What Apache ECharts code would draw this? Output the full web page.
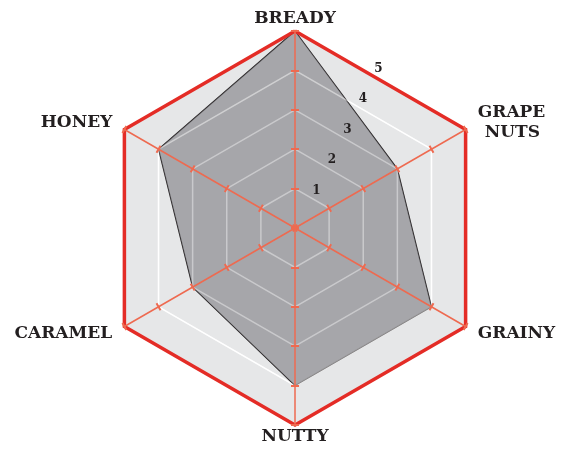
<!DOCTYPE html>
<html>
<head>
<meta charset="utf-8">
<script src="https://cdn.jsdelivr.net/npm/echarts@6/dist/echarts.min.js"></script>
<style>
html, body { margin: 0; padding: 0; background: #fff; }
#chart { width: 569px; height: 449px; }
</style>
</head>
<body>
<div id="chart"></div>
<script>
// indicators go counter-clockwise from the top in echarts
var flavours = ['BREADY', 'HONEY', 'CARAMEL', 'NUTTY', 'GRAINY', 'GRAPE\nNUTS'];
var scores = [5, 4, 3, 4, 4, 3];
var scaleMax = 5;
var scaleLabels = ['1', '2', '3', '4', '5'];

var none = 'rgba(0,0,0,0)';
var coral = '#ee6a50';
var faint = 'rgba(255,255,255,0.4)';
var center = [295, 228];
var radius = 197;

function indicators(withNames) {
    return flavours.map(function(name, i) {
        var item = { name: withNames ? name : '', min: 0, max: scaleMax };
        // names at the top and bottom sit closer to the corner than the side ones
        if (withNames) {
            item.nameGap = (i * 60) % 180 === 0 ? 2 : 14;
        }
        return item;
    });
}

var chart = echarts.init(document.getElementById('chart'));

option = {
    animation: false,
    radar: [
        {
            // background: grey area, white ring at 4, flavour names
            z: 0,
            center: center,
            radius: radius,
            splitNumber: 5,
            indicator: indicators(true),
            axisName: {
                color: '#231f20',
                fontFamily: 'DejaVu Serif',
                fontWeight: 'bold',
                fontSize: 17,
                lineHeight: 20,
                formatter: function(name) {
                    var parts = name.split('\n');
                    if (parts.length < 2) return name;
                    return '{a|' + parts[0] + '}\n{b|' + parts[1] + '}';
                },
                rich: {
                    a: { fontFamily: 'DejaVu Serif', fontWeight: 'bold', fontSize: 17, lineHeight: 20, color: '#231f20' },
                    b: { fontFamily: 'DejaVu Serif', fontWeight: 'bold', fontSize: 17, lineHeight: 20, color: '#231f20', padding: [0, 0, 0, 7] }
                }
            },
            axisLine: { show: false },
            axisTick: { show: false },
            axisLabel: { show: false },
            splitArea: { show: true, areaStyle: { color: ['#e6e7e8'] } },
            splitLine: { lineStyle: { color: [none, none, none, none, '#ffffff', none], width: 1.5 } }
        },
        {
            // spokes, ticks and the faint inner rings over the data
            z: 3,
            center: center,
            radius: radius,
            splitNumber: 5,
            indicator: indicators(false),
            axisName: { show: false },
            axisLine: { lineStyle: { color: coral, width: 1.5 } },
            axisTick: { show: true, length: 4, lineStyle: { color: coral, width: 2 } },
            axisLabel: { show: false },
            splitArea: { show: false },
            splitLine: { lineStyle: { color: [none, faint, faint, faint, faint, none], width: 1.5 } }
        },
        {
            // thick red outline + the ticks on the other side of the spokes
            z: 3,
            center: center,
            radius: radius,
            splitNumber: 5,
            indicator: indicators(false),
            axisName: { show: false },
            axisLine: { show: false },
            axisTick: { show: true, length: -4, lineStyle: { color: coral, width: 2 } },
            axisLabel: { show: false },
            splitArea: { show: false },
            splitLine: { lineStyle: { color: [none, none, none, none, none, '#e42c26'], width: 3.5 } }
        },
        {
            // scale numbers, on a turned axis between BREADY and GRAPE NUTS
            z: 3,
            center: [305, 221],
            radius: 171,
            startAngle: 63,
            splitNumber: 5,
            indicator: [{ name: '', min: 0, max: scaleMax }],
            axisName: { show: false },
            axisLine: { show: false },
            axisTick: { show: false },
            splitArea: { show: false },
            splitLine: { show: false },
            axisLabel: {
                show: true,
                margin: 0,
                color: '#231f20',
                fontFamily: 'DejaVu Serif',
                fontWeight: 'bold',
                fontSize: 12,
                formatter: function(v) {
                    return v > 0 ? scaleLabels[v - 1] : '';
                }
            }
        }
    ],
    series: [{
        type: 'radar',
        radarIndex: 0,
        z: 2,
        symbol: 'none',
        data: [{ value: scores, name: 'Flavour' }],
        lineStyle: { color: '#231f20', width: 1.2 },
        areaStyle: { color: '#7b7c80', opacity: 0.6 }
    }]
};

chart.setOption(option);
</script>
</body>
</html>
